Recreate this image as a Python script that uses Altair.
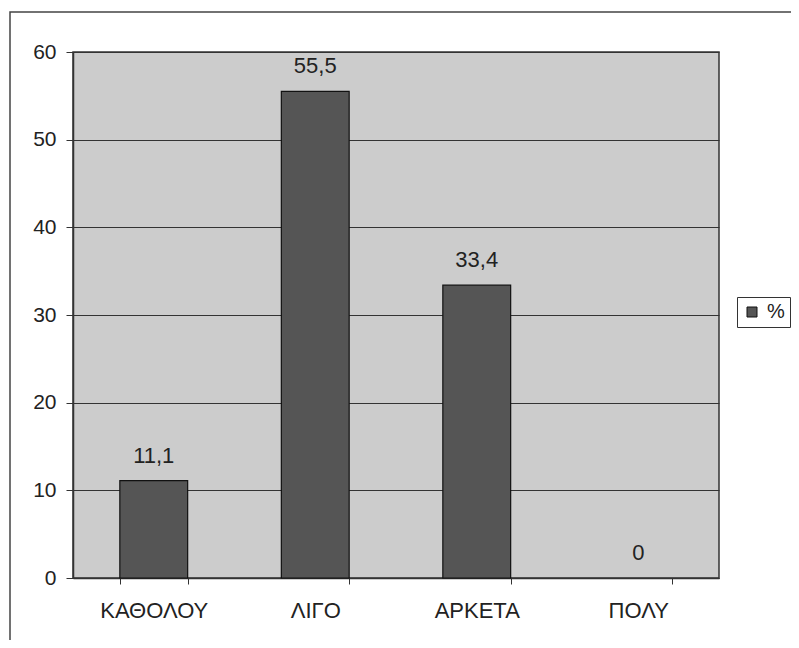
import altair as alt
import pandas as pd

categories = ["ΚΑΘΟΛΟΥ", "ΛΙΓΟ", "ΑΡΚΕΤΑ", "ΠΟΛΥ"]
values = [11.1, 55.5, 33.4, 0]
labels = ["11,1", "55,5", "33,4", "0"]
series = "%"

df = pd.DataFrame({"cat": categories, "val": values, "lab": labels, "s": [series] * 4})

W, H = 646, 526
FONT = "Liberation Sans"
FS = 22

x = alt.X("cat:N", sort=categories, title=None,
          scale=alt.Scale(paddingInner=0.58, paddingOuter=0.29),
          axis=alt.Axis(labelAngle=0, labelFontSize=FS, labelFont=FONT, labelColor="#222",
                        labelPadding=16, tickBand="extent", tickSize=6, tickColor="#333",
                        domainColor="#333", domainWidth=1.5, grid=False))
y = alt.Y("val:Q", title=None,
          scale=alt.Scale(domain=[0, 60], nice=False),
          axis=alt.Axis(values=[0, 10, 20, 30, 40, 50, 60], labelFontSize=21, labelFont=FONT,
                        labelColor="#222", labelPadding=10, tickSize=7, tickColor="#333",
                        domainColor="#333", domainWidth=1.5, gridColor="#333", gridWidth=1))

bars = alt.Chart(df).mark_bar(stroke="#111", strokeWidth=1.2).encode(
    x=x, y=y,
    strokeOpacity=alt.condition("datum.val > 0", alt.value(1), alt.value(0)),
    color=alt.Color("s:N", title=None,
                    scale=alt.Scale(domain=[series], range=["#555555"]),
                    legend=alt.Legend(orient="none", legendX=664, legendY=245,
                                      strokeColor="#333", padding=5, symbolType="square",
                                      symbolSize=100, symbolStrokeColor="#111",
                                      symbolStrokeWidth=1, labelFontSize=20, labelFont=FONT,
                                      labelColor="#222", labelOffset=5))
)

text = alt.Chart(df).mark_text(dy=-18, baseline="alphabetic", fontSize=22, font=FONT,
                               color="#222").encode(
    x=alt.X("cat:N", sort=categories), y="val:Q", text="lab:N"
)

border = alt.Chart(df.head(1)).mark_rect(fill=None, stroke="#444", strokeWidth=1.5, clip=False).encode(
    x=alt.value(-63), x2=alt.value(W + 100), y=alt.value(-40), y2=alt.value(H + 90)
)

chart = alt.layer(bars, text, border).properties(
    width=W, height=H,
    autosize=alt.AutoSizeParams(type="none"),
    padding={"left": 65, "top": 44, "right": 72, "bottom": 62},
    background="white",
).configure_view(fill="#cccccc", stroke="#333", strokeWidth=1.5)

chart.save("out.html", embed_options={"renderer": "svg", "actions": False})
